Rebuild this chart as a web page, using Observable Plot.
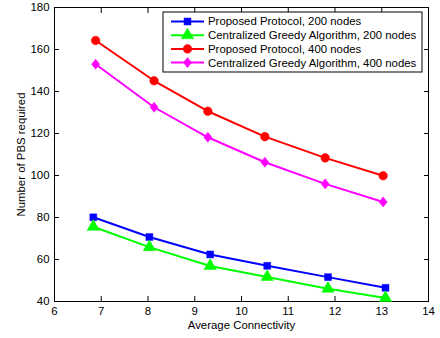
<!DOCTYPE html>
<html>
<head>
<meta charset="utf-8">
<script src="https://cdn.jsdelivr.net/npm/d3@7"></script>
<script src="https://cdn.jsdelivr.net/npm/@observablehq/plot@0.6"></script>
<style>
  html, body { margin: 0; padding: 0; background: #fff; }
  svg { display: block; }
</style>
</head>
<body>
<div id="chart"></div>
<script>
const x200 = [6.83, 8.03, 9.33, 10.55, 11.85, 13.08];
const x400 = [6.88, 8.13, 9.28, 10.50, 11.79, 13.03];
const proposed200 = [80.1, 70.7, 62.4, 57.0, 51.6, 46.5];
const greedy200 = [75.6, 65.9, 56.9, 51.7, 46.1, 41.7];
const proposed400 = [164.3, 145.1, 130.6, 118.5, 108.4, 99.9];
const greedy400 = [153.0, 132.5, 118.2, 106.3, 96.0, 87.4];
const xTicks = [6, 7, 8, 9, 10, 11, 12, 13, 14];
const yTicks = [40, 60, 80, 100, 120, 140, 160, 180];

const seriesNames = [
  "Proposed Protocol, 200 nodes",
  "Centralized Greedy Algorithm, 200 nodes",
  "Proposed Protocol, 400 nodes",
  "Centralized Greedy Algorithm, 400 nodes"
];
const seriesColors = ["#0000ff", "#00ff00", "#ff0000", "#ff00ff"];

// Matlab-like diamond: width/height = 0.8
const matlabDiamond = {
  draw(context, size) {
    const hh = Math.sqrt(size / 0.4) / 2;
    const hw = hh * 0.8;
    context.moveTo(0, -hh);
    context.lineTo(hw, 0);
    context.lineTo(0, hh);
    context.lineTo(-hw, 0);
    context.closePath();
  }
};
const seriesSymbols = [d3.symbolSquare, d3.symbolTriangle, d3.symbolCircle, matlabDiamond];
const seriesR = [3.9, 4.6, 4.3, 3.6];
const seriesX = [x200, x200, x400, x400];
const seriesY = [proposed200, greedy200, proposed400, greedy400];

const series = seriesNames.map((name, i) => ({
  name, color: seriesColors[i], symbol: seriesSymbols[i], r: seriesR[i],
  data: seriesX[i].map((x, j) => ({x, y: seriesY[i][j]}))
}));

const font = "Liberation Sans, Arial, Helvetica, sans-serif";
const fs = 11.4;

const marks = [];
for (const s of series) {
  marks.push(Plot.line(s.data, {x: "x", y: "y", stroke: s.color, strokeWidth: 2}));
  marks.push(Plot.dot(s.data, {x: "x", y: "y", fill: s.color, stroke: s.color, strokeWidth: 0.5, symbol: s.symbol, r: s.r}));
}

const svg = Plot.plot({
  width: 440,
  height: 338,
  marginLeft: 54,
  marginRight: 12,
  marginTop: 7,
  marginBottom: 37,
  style: {fontFamily: font, fontSize: fs + "px", color: "#000", background: "#fff"},
  x: {domain: [6, 14]},
  y: {domain: [40, 180]},
  marks: [
    Plot.frame({stroke: "#000", strokeWidth: 1}),
    Plot.axisX({ticks: xTicks, tickSize: 0, tickPadding: 5, fontSize: fs, label: "Average Connectivity", labelAnchor: "center", labelArrow: "none", labelOffset: 27}),
    Plot.axisX({ticks: xTicks, tickSize: -5, text: null, label: null}),
    Plot.axisX({ticks: xTicks, anchor: "top", tickSize: -5, text: null, label: null}),
    Plot.axisY({ticks: yTicks, tickSize: 0, tickPadding: 5, fontSize: fs, label: "Number of PBS required", labelAnchor: "center", labelArrow: "none", labelOffset: 38}),
    Plot.axisY({ticks: yTicks, tickSize: -5, text: null, label: null}),
    Plot.axisY({ticks: yTicks, anchor: "right", tickSize: -5, text: null, label: null}),
    ...marks
  ]
});

// legend box
const g = d3.select(svg).append("g").attr("font-family", font).attr("font-size", fs).attr("text-anchor", "start");
const lx = 163, ly = 12, lw = 259, lh = 60;
g.append("rect").attr("x", lx).attr("y", ly).attr("width", lw).attr("height", lh)
  .attr("fill", "#fff").attr("stroke", "#000").attr("stroke-width", 1);
series.forEach((s, i) => {
  const cy = ly + 9.5 + i * 13.7;
  g.append("line").attr("x1", lx + 8).attr("x2", lx + 41).attr("y1", cy).attr("y2", cy)
    .attr("stroke", s.color).attr("stroke-width", 2);
  g.append("path").attr("d", d3.symbol(s.symbol, Math.PI * s.r * s.r)())
    .attr("transform", `translate(${lx + 24.5},${cy})`)
    .attr("fill", s.color).attr("stroke", s.color).attr("stroke-width", 0.5);
  g.append("text").attr("x", lx + 45).attr("y", cy).attr("dy", "0.35em").attr("text-anchor", "start").attr("fill", "#000").text(s.name);
});

document.getElementById("chart").appendChild(svg);
</script>
</body>
</html>
